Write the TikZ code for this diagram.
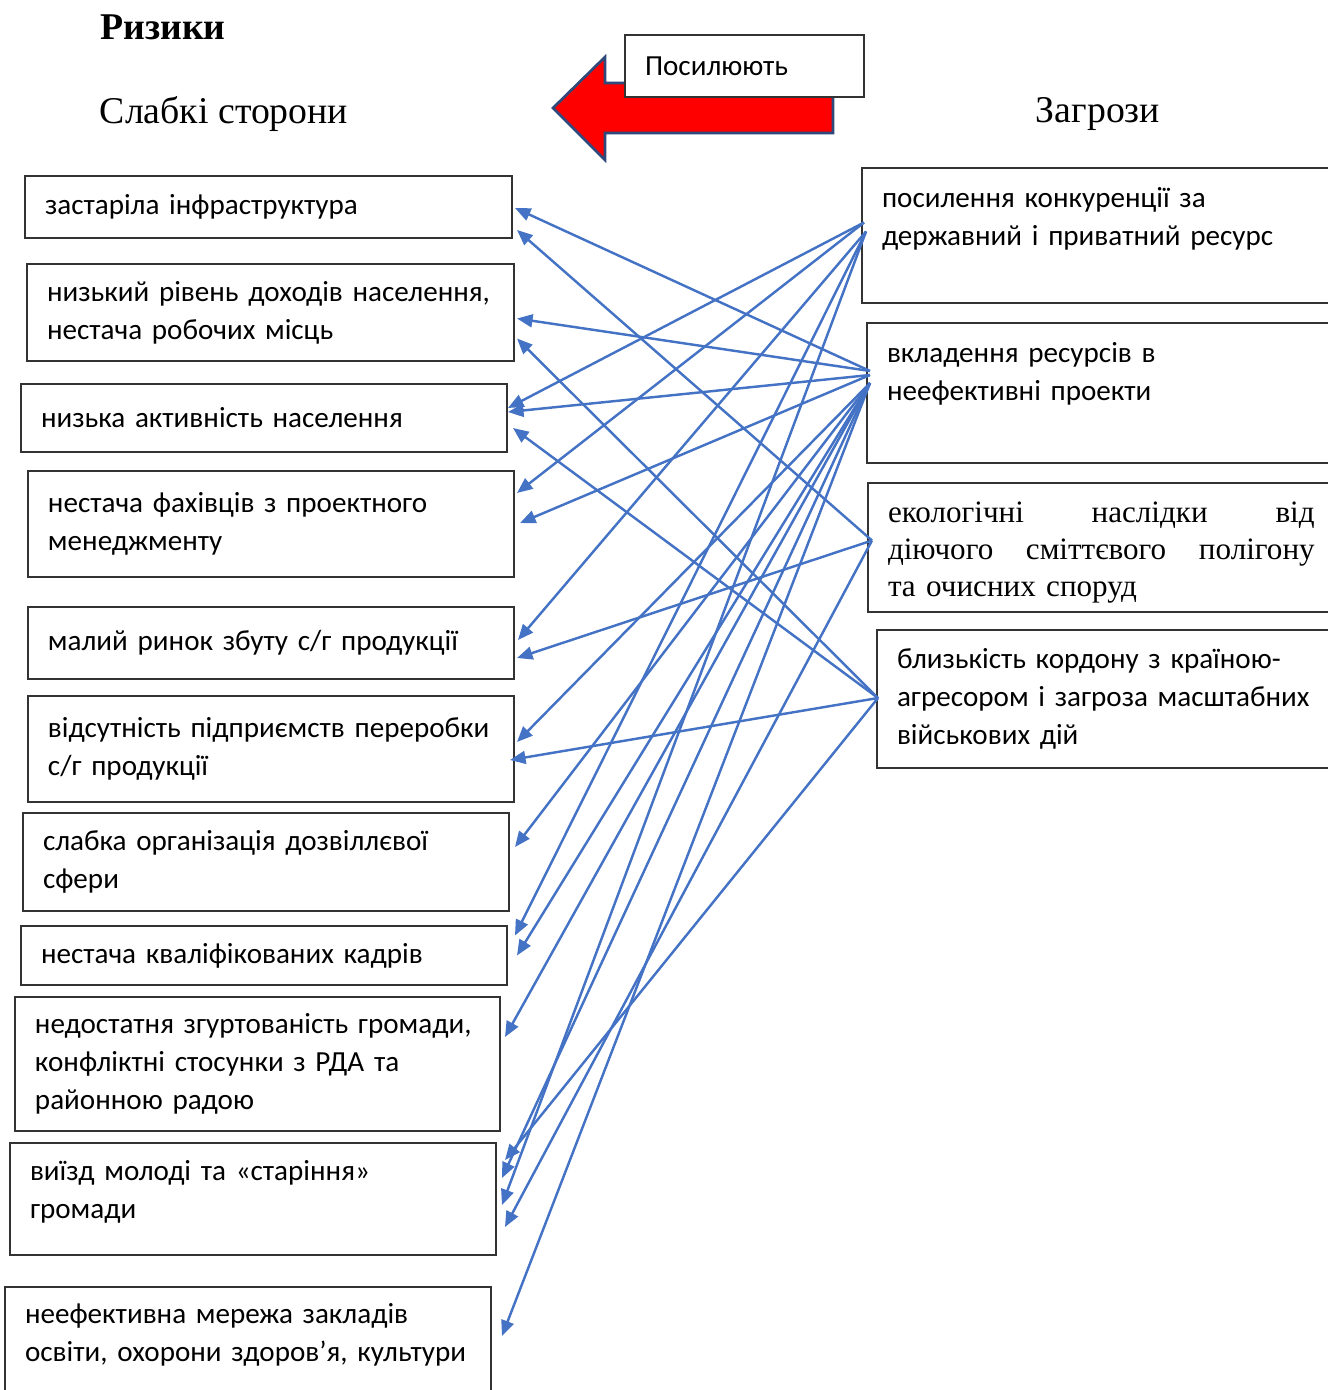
\documentclass[tikz,border=0pt]{standalone}
\usepackage{fontspec}
\setmainfont{Liberation Serif}
\newfontfamily\boxfont{Carlito}
\usepackage{xcolor}
\usetikzlibrary{
    positioning,
    arrows.meta,
    calc
}
\newcommand{\pxl}{0.45pt}
\newcommand{\spreadline}[1]{\leavevmode\hbox to 192pt{#1}}
\definecolor{linkblue}{HTML}{4472C4}
\definecolor{arrowedge}{HTML}{2F4A7A}

\begin{document}
\begin{tikzpicture}[
    x=0.45pt, y=-0.45pt,
    box/.style={
        rectangle,
        draw=black!80,
        line width=0.6pt,
        fill=white,
        anchor=north west,
        outer sep=0pt,
        inner xsep=9pt,
        inner ysep=0pt,
        align=left,
        font=\boxfont\fontsize{13.1pt}{17.2pt}\selectfont
    },
    cell/.style 2 args={box, text width={#1*\pxl-18pt}, minimum height={#2*\pxl}},
    link/.style={-{Triangle[length=7pt,width=5.8pt]}, draw=linkblue, line width=1.1pt},
    title/.style={font=\fontsize{17pt}{20pt}\selectfont}
]
\clip (0,0) rectangle (1328,1390);

% headings
\node[font=\bfseries\fontsize{17pt}{20pt}\selectfont] (rysyky) at (163,27) {Ризики};
\node[title] (slabki) at (224,114) {Слабкі сторони};
\node[title] (zagrozy) at (1098,114) {Загрози};

% big arrow and its label
\draw[fill=red, draw=arrowedge, line width=1.2pt]
    (553,108) -- (605,57) -- (605,83) -- (833,83) -- (833,133)
    -- (605,133) -- (605,160) -- cycle;
\node[cell={239}{62}] (posyl) at (625,35) {Посилюють};

% weak sides
\node[cell={487}{62}] (w1) at (25,176) {застаріла інфраструктура};
\node[cell={487}{97}] (w2) at (27,264) {низький рівень доходів населення,\\ нестача робочих місць};
\node[cell={486}{68}] (w3) at (21,384) {низька активність населення};
\node[cell={486}{106}] (w4) at (28,471) {нестача фахівців з проектного\\ менеджменту};
\node[cell={486}{72}] (w5) at (28,607) {малий ринок збуту с/г продукції};
\node[cell={486}{106}] (w6) at (28,696) {відсутність підприємств переробки\\ с/г продукції};
\node[cell={486}{98}] (w7) at (23,813) {слабка організація дозвіллєвої\\ сфери};
\node[cell={486}{59}] (w8) at (21,926) {нестача кваліфікованих кадрів};
\node[cell={485}{134}] (w9) at (15,997) {недостатня згуртованість громади,\\ конфліктні стосунки з РДА та\\ районною радою};
\node[cell={486}{112}] (w10) at (10,1143) {виїзд молоді та «старіння»\\ громади\\[-14pt] \strut};
\node[cell={486}{118}] (w11) at (5,1287) {неефективна мережа закладів\\ освіти, охорони здоров’я, культури\\[-10pt] \strut};

% threats
\node[cell={500}{135}] (t1) at (862,168) {посилення конкуренції за\\ державний і приватний ресурс\\[-5pt] \strut};
\node[cell={500}{140}] (t2) at (867,323) {вкладення ресурсів в\\ неефективні проекти\\[-3pt] \strut};
\node[box, text width=192pt, minimum height={129*\pxl},
      font=\fontsize{14pt}{16.65pt}\selectfont] (t3) at (868,483)
    {\spreadline{\rule{0pt}{13.5pt}екологічні\hfill наслідки\hfill від}\\
     \spreadline{діючого\hfill сміттєвого\hfill полігону}\\
     та очисних споруд};
\node[cell={500}{138}] (t4) at (877,630) {близькість кордону з країною-\\ агресором і загроза масштабних\\ військових дій};

% start points on the threats
\coordinate (t1a) at ($(t1.west)+(2,-13)$);
\coordinate (t1b) at ($(t1.west)+(4,-4)$);
\coordinate (t2a) at ($(t2.west)+(3,-22)$);
\coordinate (t2b) at ($(t2.west)+(3,-18)$);
\coordinate (t2c) at ($(t2.west)+(3,-10)$);
\coordinate (t3a) at ($(t3.west)+(4,-7)$);
\coordinate (t4a) at ($(t4.west)+(1,-1)$);

\draw[link] (t2a) -- ($(w1.east)+(3,1)$);
\draw[link] (t3a) -- ($(w1.east)+(5,23)$);
\draw[link] (t2a) -- ($(w2.east)+(3,6)$);
\draw[link] (t4a) -- ($(w2.east)+(3,26)$);
\draw[link] (t1a) -- ($(w3.east)+(1,-10)$);
\draw[link] (t2b) -- ($(w3.east)+(1,-6)$);
\draw[link] (t4a) -- ($(w3.east)+(6,10)$);
\draw[link] (t1a) -- ($(w4.east)+(3,-31)$);
\draw[link] (t2b) -- ($(w4.east)+(6,-1)$);
\draw[link] (t1b) -- ($(w5.east)+(4,-3)$);
\draw[link] (t3a) -- ($(w5.east)+(3,15)$);
\draw[link] (t2c) -- ($(w6.east)+(3,-7)$);
\draw[link] (t4a) -- ($(w6.east)+(-4,11)$);
\draw[link] (t2c) -- ($(w7.east)+(6,-15)$);
\draw[link] (t1b) -- ($(w8.east)+(8,-20)$);
\draw[link] (t2c) -- ($(w8.east)+(10,0)$);
\draw[link] (t2c) -- ($(w9.east)+(5,-27)$);
\draw[link] (t4a) -- ($(w10.east)+(9,-39)$);
\draw[link] (t2c) -- ($(w10.east)+(6,-21)$);
\draw[link] (t1b) -- ($(w10.east)+(6,6)$);
\draw[link] (t3a) -- ($(w10.east)+(9,28)$);
\draw[link] (t2c) -- ($(w11.east)+(11,-10)$);

\end{tikzpicture}
\end{document}
